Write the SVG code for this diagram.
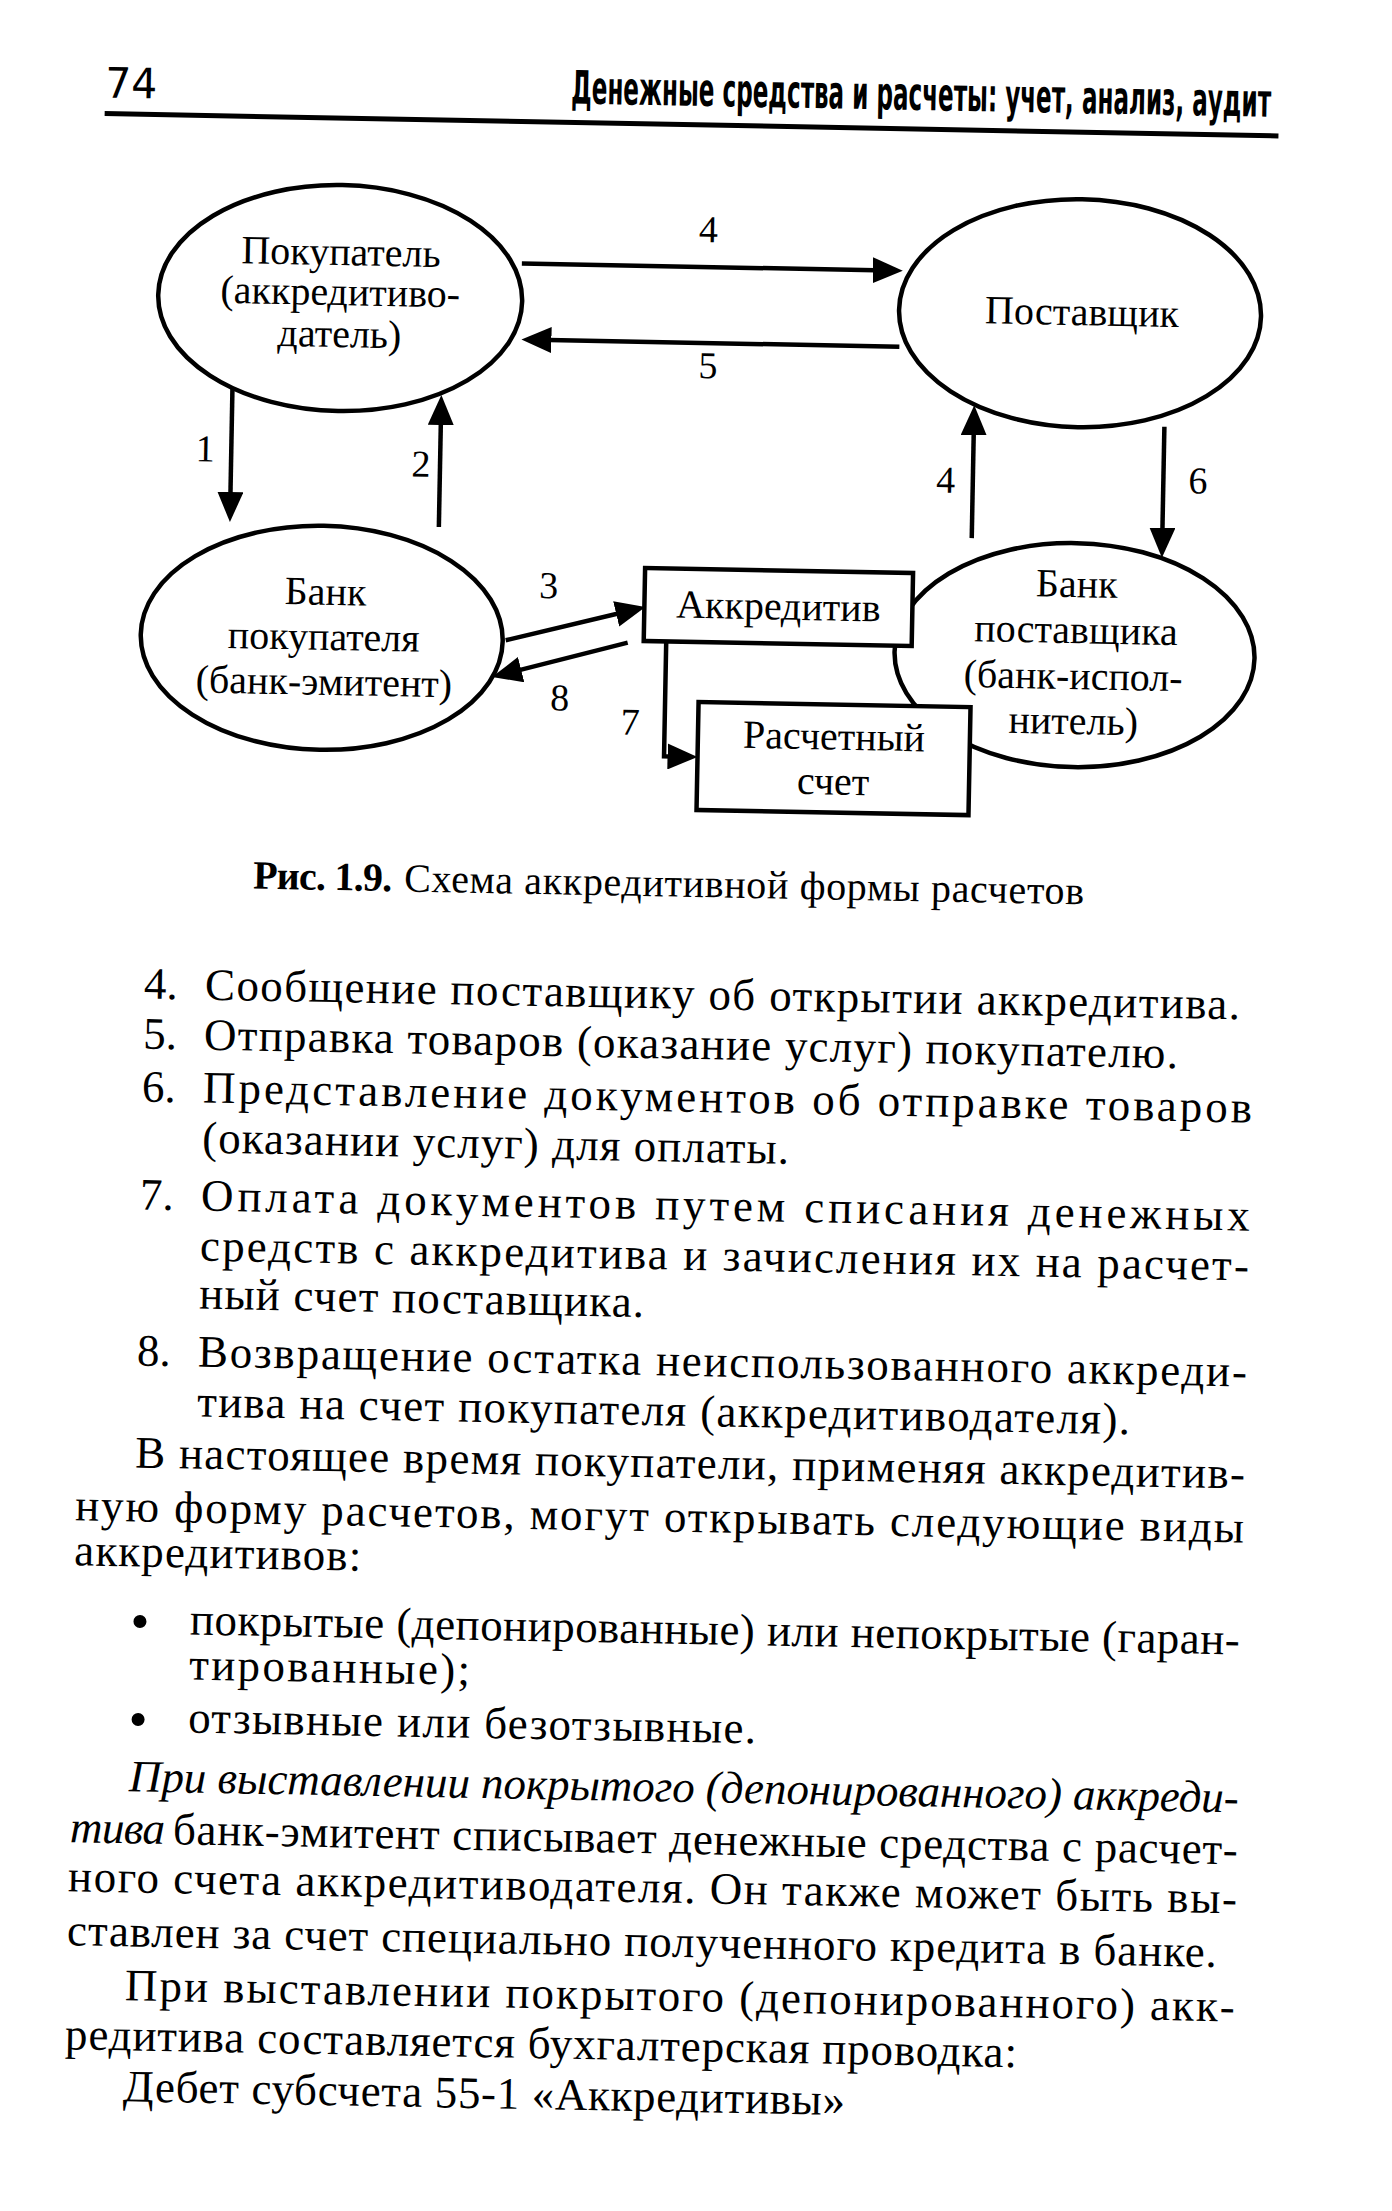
<svg xmlns="http://www.w3.org/2000/svg" width="1392" height="2211" viewBox="0 0 1392 2211">
<defs>
<style>
.n{font-family:'Liberation Serif','Times New Roman',serif;font-size:40px;fill:#000;text-anchor:middle}
.lb{font-family:'Liberation Serif','Times New Roman',serif;font-size:38px;fill:#000;text-anchor:middle}
.b{font-family:'Liberation Serif','Times New Roman',serif;font-size:45px;fill:#000}
.i{font-style:italic}
.cap{font-family:'Liberation Serif','Times New Roman',serif;font-size:40px;fill:#000}
.sh{fill:none;stroke:#000;stroke-width:4.5}
.bx{fill:#fff;stroke:#000;stroke-width:4.5}
.c{fill:none;stroke:#000;stroke-width:4.5;marker-end:url(#ah)}
</style>
<marker id="ah" markerUnits="userSpaceOnUse" markerWidth="30" markerHeight="26" viewBox="0 0 30 26" refX="15" refY="13" orient="auto"><path d="M0,0 L30,13 L0,26 z" fill="#000"/></marker>
</defs>
<rect width="1392" height="2211" fill="#fff"/>
<g transform="rotate(1.09 696 1100)">
<g id="header">
<text x="86" y="109" font-family="'Liberation Sans Narrow','DejaVu Sans Condensed','Liberation Sans',sans-serif" font-size="42" textLength="52" lengthAdjust="spacingAndGlyphs">74</text>
<text x="552" y="106" font-family="'Liberation Sans Narrow','DejaVu Sans Condensed','Liberation Sans',sans-serif" font-size="46" font-weight="bold" textLength="700" lengthAdjust="spacingAndGlyphs">Денежные средства и расчеты: учет, анализ, аудит</text>
<path d="M86,125 H1260" stroke="#000" stroke-width="5"/>
</g>
<g id="pokupatel">
<ellipse class="sh" cx="325" cy="305" rx="182" ry="113"/>
<text class="n" x="325" y="272">Покупатель</text>
<text class="n" x="325" y="312">(аккредитиво-</text>
<text class="n" x="325" y="354">датель)</text>
</g>
<g id="postavshchik">
<ellipse class="sh" cx="1065" cy="306" rx="181" ry="114"/>
<text class="n" x="1067" y="318">Поставщик</text>
</g>
<g id="bank-pokupatelya">
<ellipse class="sh" cx="313" cy="645" rx="181" ry="112"/>
<text class="n" x="316" y="612">Банк</text>
<text class="n" x="315" y="657">покупателя</text>
<text class="n" x="316" y="702">(банк-эмитент)</text>
</g>
<g id="bank-postavshchika">
<ellipse class="sh" cx="1066" cy="648" rx="180" ry="112"/>
<text class="n" x="1067" y="590">Банк</text>
<text class="n" x="1067" y="636">поставщика</text>
<text class="n" x="1065" y="682">(банк-испол-</text>
<text class="n" x="1066" y="727">нитель)</text>
</g>
<g id="akkreditiv">
<rect class="bx" x="635" y="569" width="268" height="73"/>
<text class="n" x="769" y="618">Аккредитив</text>
</g>
<g id="raschetny-schet">
<rect class="bx" x="691" y="702" width="272" height="108"/>
<text class="n" x="827" y="747">Расчетный</text>
<text class="n" x="827" y="792">счет</text>
</g>
<g id="connectors">
<path class="c" d="M219,397 V516"/>
<path class="c" d="M428,532 V415"/>
<path class="c" d="M506,267 H872"/>
<path class="c" d="M885,343 H522"/>
<path class="c" d="M961,533 V415"/>
<path class="c" d="M1151.5,418 V534"/>
<path class="c" d="M497,644 L621.5,611.8"/>
<path class="c" d="M619,644 L498.5,677"/>
<path class="c" d="M657.5,642 V757 H676"/>
<text class="lb" x="692" y="242">4</text>
<text class="lb" x="694" y="378">5</text>
<text class="lb" x="193" y="471">1</text>
<text class="lb" x="409" y="482">2</text>
<text class="lb" x="934" y="488">4</text>
<text class="lb" x="1186" y="484">6</text>
<text class="lb" x="539" y="601">3</text>
<text class="lb" x="552" y="713">8</text>
<text class="lb" x="623" y="736">7</text>
</g>
<g id="caption">
<text class="cap" x="249" y="897" font-weight="bold" textLength="139" lengthAdjust="spacing">Рис. 1.9.</text>
<text class="cap" x="400" y="897" textLength="680" lengthAdjust="spacing">Схема аккредитивной формы расчетов</text>
</g>
<g id="body">
<text class="b" x="142" y="1009">4.</text>
<text class="b" x="203" y="1009" textLength="1035" lengthAdjust="spacing">Сообщение поставщику об открытии аккредитива.</text>
<text class="b" x="142" y="1059">5.</text>
<text class="b" x="203" y="1059" textLength="974" lengthAdjust="spacing">Отправка товаров (оказание услуг) покупателю.</text>
<text class="b" x="142" y="1112">6.</text>
<text class="b" x="203" y="1112" textLength="1049" lengthAdjust="spacing">Представление документов об отправке товаров</text>
<text class="b" x="203" y="1162" textLength="587" lengthAdjust="spacing">(оказании услуг) для оплаты.</text>
<text class="b" x="142" y="1220">7.</text>
<text class="b" x="203" y="1220" textLength="1049" lengthAdjust="spacing">Оплата документов путем списания денежных</text>
<text class="b" x="203" y="1270" textLength="1049" lengthAdjust="spacing">средств с аккредитива и зачисления их на расчет-</text>
<text class="b" x="203" y="1318" textLength="445" lengthAdjust="spacing">ный счет поставщика.</text>
<text class="b" x="142" y="1376">8.</text>
<text class="b" x="203" y="1376" textLength="1049" lengthAdjust="spacing">Возвращение остатка неиспользованного аккреди-</text>
<text class="b" x="203" y="1426" textLength="933" lengthAdjust="spacing">тива на счет покупателя (аккредитиводателя).</text>
<text class="b" x="142" y="1478" textLength="1110" lengthAdjust="spacing">В настоящее время покупатели, применяя аккредитив-</text>
<text class="b" x="83" y="1532" textLength="1169" lengthAdjust="spacing">ную форму расчетов, могут открывать следующие виды</text>
<text class="b" x="83" y="1577" textLength="287" lengthAdjust="spacing">аккредитивов:</text>
<circle cx="150" cy="1632" r="6.5" fill="#000"/>
<text class="b" x="200" y="1644" textLength="1050" lengthAdjust="spacing">покрытые (депонированные) или непокрытые (гаран-</text>
<text class="b" x="200" y="1689" textLength="281" lengthAdjust="spacing">тированные);</text>
<circle cx="150" cy="1730" r="6.5" fill="#000"/>
<text class="b" x="200" y="1742" textLength="568" lengthAdjust="spacing">отзывные или безотзывные.</text>
<text class="b i" x="142" y="1802" textLength="1110" lengthAdjust="spacing">При выставлении покрытого (депонированного) аккреди-</text>
<text class="b i" x="84" y="1854" textLength="95" lengthAdjust="spacing">тива</text>
<text class="b" x="187" y="1854" textLength="1065" lengthAdjust="spacing">банк-эмитент списывает денежные средства с расчет-</text>
<text class="b" x="83" y="1903" textLength="1169" lengthAdjust="spacing">ного счета аккредитиводателя. Он также может быть вы-</text>
<text class="b" x="83" y="1957" textLength="1150" lengthAdjust="spacing">ставлен за счет специально полученного кредита в банке.</text>
<text class="b" x="142" y="2011" textLength="1110" lengthAdjust="spacing">При выставлении покрытого (депонированного) акк-</text>
<text class="b" x="83" y="2061" textLength="952" lengthAdjust="spacing">редитива составляется бухгалтерская проводка:</text>
<text class="b" x="142" y="2112" textLength="722" lengthAdjust="spacing">Дебет субсчета 55-1 «Аккредитивы»</text>
</g>
</g>
</svg>
